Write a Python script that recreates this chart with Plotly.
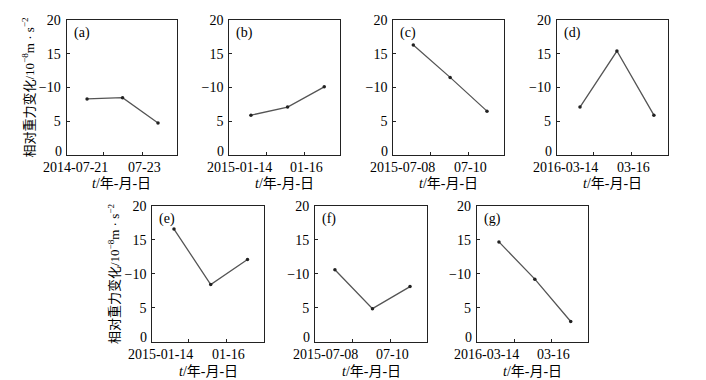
import plotly.graph_objects as go

W, H = 706, 380
OFF = 8  # page body margin offset

# ---- data ----
panel_labels = ["(a)", "(b)", "(c)", "(d)", "(e)", "(f)", "(g)"]
measure_idx = [1, 2, 3]
vals_a = [8.3, 8.5, 4.75]
vals_b = [5.9, 7.1, 10.1]
vals_c = [16.3, 11.5, 6.5]
vals_d = [7.1, 15.4, 5.9]
vals_e = [16.6, 8.4, 12.1]
vals_f = [10.6, 4.85, 8.1]
vals_g = [14.7, 9.2, 2.95]
series = [vals_a, vals_b, vals_c, vals_d, vals_e, vals_f, vals_g]

xtick_text = [
    ["2014-07-21", "07-23"],
    ["2015-01-14", "01-16"],
    ["2015-07-08", "07-10"],
    ["2016-03-14", "03-16"],
    ["2015-01-14", "01-16"],
    ["2015-07-08", "07-10"],
    ["2016-03-14", "03-16"],
]
ytick_vals = [0, 5, 10, 15, 20]
ytick_text = ["0", "5", "−10", "15", "20"]

x_title = "<i>t</i>/年-月-日"
y_title = "相对重力变化/10<sup>−8</sup>m · s<sup>−2</sup>"

# ---- layout (pixel boxes in page coords) ----
boxes = [  # left, right, top, bottom
    (66.5, 177, 20, 155),
    (229.3, 340, 20, 155),
    (393.3, 504.3, 20, 155),
    (556.7, 668.3, 20, 155),
    (152.3, 264, 206, 341.5),
    (315, 427.3, 206, 341.5),
    (476.7, 588.3, 206, 341.5),
]
xranges = [
    (0.42, 3.535), (0.41, 3.43), (0.457, 3.47), (0.37, 3.39),
    (0.41, 3.45), (0.47, 3.46), (0.38, 3.49),
]
xticks = [
    (1.45, 2.55), (1.43, 2.45), (1.46, 2.49), (1.36, 2.39),
    (1.39, 2.44), (1.47, 2.49), (1.42, 2.47),
]

FONT = "Liberation Serif, Noto Sans CJK SC"
AX = "#222222"

fig = go.Figure()
annotations = []
layout = dict(
    width=W, height=H,
    margin=dict(l=0, r=0, t=0, b=0, autoexpand=False),
    paper_bgcolor="white", plot_bgcolor="white",
    showlegend=False,
    font=dict(family=FONT, size=14, color="black"),
)

for i, vals in enumerate(series):
    n = "" if i == 0 else str(i + 1)
    xa, ya = "x" + n, "y" + n
    l, r, t, b = [v - OFF for v in boxes[i]]
    fig.add_trace(go.Scatter(
        x=measure_idx, y=vals, xaxis=xa, yaxis=ya, mode="lines+markers",
        line=dict(color="#555555", width=1.3),
        marker=dict(size=3.5, color="#222222"),
        hoverinfo="skip",
    ))
    layout["xaxis" + n] = dict(
        domain=[l / W, r / W], anchor=ya, range=list(xranges[i]),
        tickvals=list(xticks[i]), showticklabels=False, automargin=False,
        ticks="inside", ticklen=3, tickcolor=AX, tickwidth=1,
        showline=True, linecolor=AX, linewidth=1, mirror=True,
        showgrid=False, zeroline=False, fixedrange=True,
    )
    layout["yaxis" + n] = dict(
        domain=[1 - b / H, 1 - t / H], anchor=xa, range=[0, 20],
        tickvals=ytick_vals[1:], ticktext=ytick_text[1:], automargin=False,
        ticks="inside", ticklen=3, tickcolor=AX, tickwidth=1,
        showline=True, linecolor=AX, linewidth=1, mirror=True,
        showgrid=False, zeroline=False, fixedrange=True,
        tickfont=dict(family=FONT, size=14, color="black"),
        ticklabelstandoff=2,
    )
    # "0" label, nudged up as in the reference to clear the date label
    annotations.append(dict(
        text=ytick_text[0], xref=xa + " domain", yref=ya, x=0, y=ytick_vals[0],
        xanchor="right", yanchor="middle", xshift=-3, yshift=4,
        showarrow=False, font=dict(family=FONT, size=14, color="black"),
    ))
    # panel label
    annotations.append(dict(
        text=panel_labels[i], xref=xa + " domain", yref=ya + " domain",
        x=0, y=1, xanchor="left", yanchor="middle", xshift=5, yshift=-13,
        showarrow=False, font=dict(family=FONT, size=14, color="black"),
    ))
    # x tick labels
    t1, t2 = xtick_text[i]
    annotations.append(dict(
        text=t1, xref=xa, yref=ya + " domain", x=xticks[i][0], y=0,
        xanchor="right", yanchor="top", xshift=7, yshift=-3,
        showarrow=False, font=dict(family=FONT, size=14, color="black"),
    ))
    annotations.append(dict(
        text=t2, xref=xa, yref=ya + " domain", x=xticks[i][1], y=0,
        xanchor="center", yanchor="top", xshift=2, yshift=-3,
        showarrow=False, font=dict(family=FONT, size=14, color="black"),
    ))
    # x title
    annotations.append(dict(
        text=x_title, xref=xa + " domain", yref=ya + " domain", x=0.5, y=0,
        xanchor="center", yanchor="middle", yshift=-28 if i < 4 else -30,
        showarrow=False, font=dict(family=FONT, size=14, color="black"),
    ))

# y titles on panels (a) and (e)
for n, xs in (("", -38.5), ("5", -39)):
    annotations.append(dict(
        text=y_title, xref="x" + n + " domain", yref="y" + n + " domain",
        x=0, y=0.5, xanchor="center", yanchor="middle", xshift=xs,
        textangle=-90, showarrow=False,
        font=dict(family=FONT, size=13, color="black"),
    ))

layout["annotations"] = annotations
fig.update_layout(**layout)
fig.write_html("out.html")
